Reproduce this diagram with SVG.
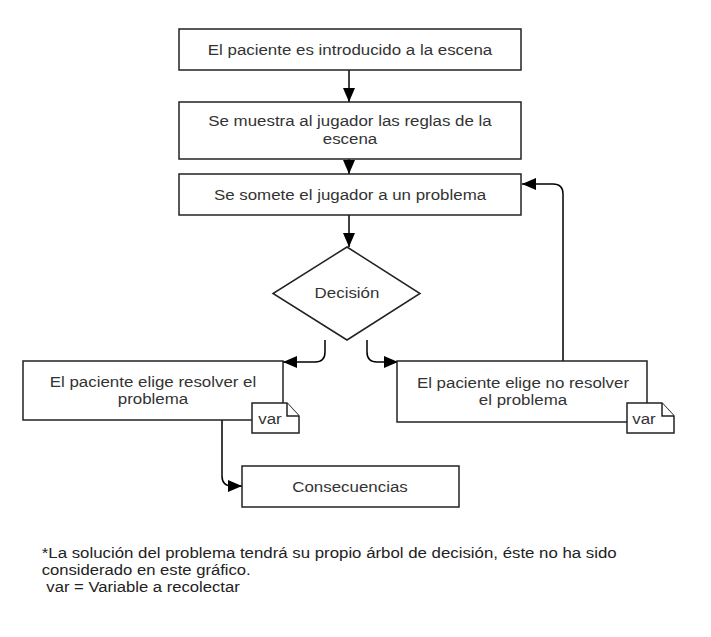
<svg xmlns="http://www.w3.org/2000/svg" width="711" height="637" viewBox="0 0 711 637">
<defs>
<marker id="arr" viewBox="0 0 14 12" refX="14" refY="6" markerWidth="14" markerHeight="12" markerUnits="userSpaceOnUse" orient="auto">
<path d="M0,0 L14,6 L0,12 Z" fill="#000"/>
</marker>
</defs>
<style>
.box{fill:#fff;stroke:#222;stroke-width:1.5}
.note{fill:#fff;stroke:#222;stroke-width:1.5;stroke-linejoin:miter}
.t{font-family:"Liberation Sans",Arial,sans-serif;font-size:15.5px;fill:#333;text-anchor:middle}
.fn{font-family:"Liberation Sans",Arial,sans-serif;font-size:15px;fill:#222}
.c{fill:none;stroke:#000;stroke-width:1.5;marker-end:url(#arr)}
</style>
<rect width="711" height="637" fill="#fff"/>
<g id="connectors">
<path class="c" d="M349,70 L349,102"/>
<path class="c" d="M349,159 L349,174"/>
<path class="c" d="M349,215 L349,247"/>
<path class="c" d="M325,340 L325,352 Q325,362 315,362 L283,362"/>
<path class="c" d="M367,340 L367,352 Q367,362 377,362 L398,362"/>
<path class="c" d="M222,420 L222,476 Q222,486 232,486 L242,486"/>
<path class="c" d="M563,361 L563,194 Q563,184 553,184 L522,184"/>
</g>
<g id="n1">
<rect class="box" x="179" y="29" width="342" height="41"/>
<text class="t" transform="scale(1.09,1)" x="321.1" y="55">El paciente es introducido a la escena</text>
</g>
<g id="n2">
<rect class="box" x="179" y="102" width="342" height="57"/>
<text class="t" transform="scale(1.09,1)" x="321.1" y="126.5">Se muestra al jugador las reglas de la</text>
<text class="t" transform="scale(1.09,1)" x="321.1" y="144">escena</text>
</g>
<g id="n3">
<rect class="box" x="179" y="174" width="342" height="41"/>
<text class="t" transform="scale(1.09,1)" x="321.1" y="200">Se somete el jugador a un problema</text>
</g>
<g id="decision">
<path class="box" d="M347,247 L420,293.5 L347,340 L273,293.5 Z"/>
<text class="t" transform="scale(1.09,1)" x="318.35" y="298.5">Decisión</text>
</g>
<g id="resolver">
<rect class="box" x="23" y="361" width="260" height="59"/>
<text class="t" transform="scale(1.09,1)" x="140.4" y="387">El paciente elige resolver el</text>
<text class="t" transform="scale(1.09,1)" x="140.4" y="404.5">problema</text>
</g>
<g id="var1">
<path class="note" d="M252,403 L287,403 L299,416 L299,433 L252,433 Z"/>
<path class="note" d="M287,403 L287,416 L299,416" fill="none"/>
<text class="t" transform="scale(1.09,1)" x="247.7" y="424">var</text>
</g>
<g id="noresolver">
<rect class="box" x="397" y="361" width="250" height="61"/>
<text class="t" transform="scale(1.09,1)" x="479.8" y="388">El paciente elige no resolver</text>
<text class="t" transform="scale(1.09,1)" x="479.8" y="405.5">el problema</text>
</g>
<g id="var2">
<path class="note" d="M627,403 L662,403 L674,416 L674,433 L627,433 Z"/>
<path class="note" d="M662,403 L662,416 L674,416" fill="none"/>
<text class="t" transform="scale(1.09,1)" x="590.8" y="424">var</text>
</g>
<g id="consecuencias">
<rect class="box" x="242" y="466" width="217" height="41"/>
<text class="t" transform="scale(1.09,1)" x="321.1" y="492">Consecuencias</text>
</g>
<g id="footnote">
<text class="fn" transform="scale(1.11,1)" x="37.6" y="558" textLength="518" lengthAdjust="spacingAndGlyphs">*La solución del problema tendrá su propio árbol de decisión, éste no ha sido</text>
<text class="fn" transform="scale(1.11,1)" x="37.6" y="575">considerado en este gráfico.</text>
<text class="fn" transform="scale(1.11,1)" x="37.6" y="592" xml:space="preserve"> var = Variable a recolectar</text>
</g>
</svg>
